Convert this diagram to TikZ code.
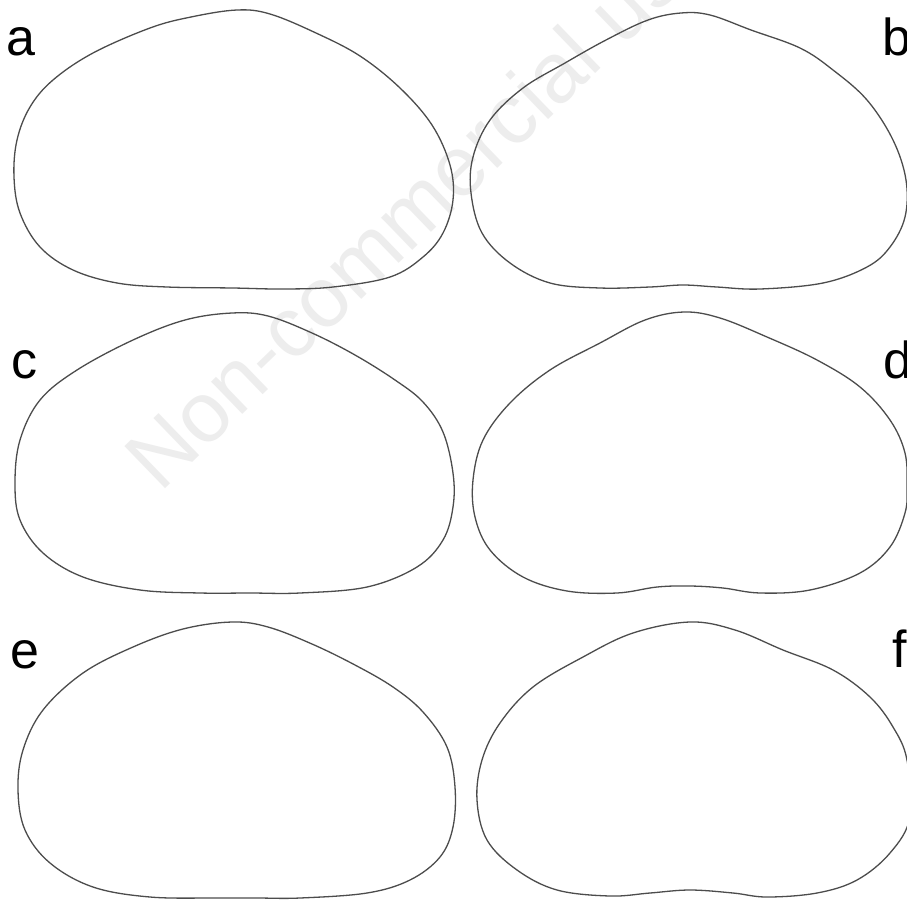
\documentclass[tikz,border=0pt]{standalone}
\usepackage{fontspec}
\setmainfont{Liberation Sans}
\begin{document}
\begin{tikzpicture}[x=1pt,y=-1pt,
  outline/.style={draw=black!70,line width=1.3pt},
  lbl/.style={inner sep=0pt,anchor=base west,font=\fontsize{52}{60}\selectfont},
  wmark/.style={inner sep=0pt,anchor=base west,text=black!7,font=\fontsize{85}{95}\selectfont}]
\useasboundingbox (0,0) rectangle (907,900);
\clip (0,0) rectangle (907,900);
\fill[white] (0,0) rectangle (907,900);
% watermark
\node[wmark,rotate=44] (wm) at (160,494) {Non-commercial use};
% shape a
\draw[outline] plot[smooth cycle,tension=0.6] coordinates {
 (237,10) (270,14) (316,33) (360,56) (400,88) (432,125) (450,165) (453,200)
 (443,233) (423,257) (390,277) (333,287) (283,289) (233,288) (167,287) (117,283)
 (73,270) (40,247) (20,213) (14,177) (17,140) (30,107) (53,80) (93,53) (150,28) (191,17)};
% shape b
\draw[outline] plot[smooth cycle,tension=0.6] coordinates {
 (681,13) (710,15) (751,30) (800,48) (833,70) (867,100) (893,140) (906,180)
 (905,217) (890,247) (867,267) (823,283) (760,289) (717,287) (683,285) (650,287)
 (600,288) (550,283) (510,263) (482,233) (471,193) (473,157) (490,120) (523,88)
 (565,63) (606,40) (648,20)};
% shape c
\draw[outline] plot[smooth cycle,tension=0.6] coordinates {
 (232,313) (268,316) (312,333) (355,355) (395,380) (423,402) (443,432) (453,473) (453,507)
 (443,540) (417,567) (367,587) (300,593) (250,593) (200,593) (140,590) (83,577)
 (43,553) (20,520) (15,483) (20,440) (40,400) (77,370) (133,340) (185,320)};
% shape d
\draw[outline] plot[smooth cycle,tension=0.6] coordinates {
 (684,312) (720,318) (767,337) (817,360) (860,387) (890,420) (905,453) (907,487)
 (905,513) (890,547) (860,573) (810,590) (760,593) (723,588) (690,586) (657,587)
 (617,593) (567,591) (523,577) (490,550) (475,517) (473,480) (483,440) (510,403)
 (550,370) (600,343) (645,320)};
% shape e
\draw[outline] plot[smooth cycle,tension=0.6] coordinates {
 (232,622) (268,627) (312,644) (355,665) (393,687) (423,712) (447,747) (455,787) (453,827)
 (440,857) (410,880) (367,893) (300,898) (257,898) (217,898) (150,897) (93,887)
 (50,863) (25,830) (18,790) (23,750) (43,710) (83,673) (133,647) (183,629)};
% shape f
\draw[outline] plot[smooth cycle,tension=0.6] coordinates {
 (690,622) (735,630) (783,650) (833,670) (870,697) (893,727) (907,760) (910,817)
 (890,853) (857,880) (817,893) (767,897) (733,893) (690,890) (650,893) (610,896)
 (557,890) (517,870) (487,840) (477,800) (482,760) (500,723) (533,687) (583,657)
 (633,633)};
% labels
\node[lbl] (la) at (6,55) {a};
\node[lbl] (lb) at (882,55) {b};
\node[lbl] (lc) at (11,378) {c};
\node[lbl] (ld) at (883,378) {d};
\node[lbl] (le) at (10,668) {e};
\node[lbl] (lf) at (892,667) {f};
\end{tikzpicture}
\end{document}
